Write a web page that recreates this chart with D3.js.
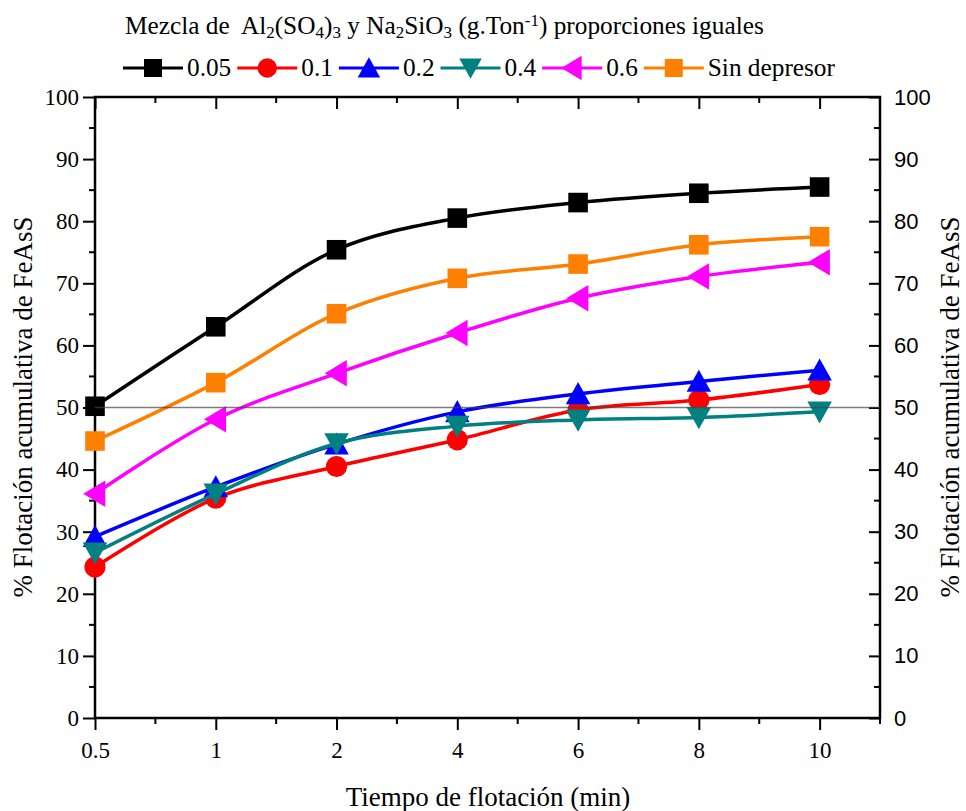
<!DOCTYPE html>
<html lang="en">
	<head>
		<meta charset="utf-8">
		<title>Flotación FeAsS</title>
		<style type="text/css">
			body {
				margin: 0;
				background: white;
			}
		</style>
		<script src="https://d3js.org/d3.v7.min.js"></script>
	</head>
	<body>
		<script type="text/javascript">
			// data
			var times = ["0.5", "1", "2", "4", "6", "8", "10"];
			var seriesNames = ["0.05", "0.1", "0.2", "0.4", "0.6", "Sin depresor"];
			var d005 = [50.2, 63.0, 75.4, 80.5, 83.0, 84.5, 85.5];
			var d01 = [24.3, 35.4, 40.5, 44.8, 49.6, 51.2, 53.7];
			var d02 = [29.2, 37.2, 44.1, 49.3, 52.2, 54.2, 56.0];
			var d04 = [26.6, 36.1, 44.2, 47.0, 48.0, 48.4, 49.3];
			var d06 = [36.1, 48.1, 55.5, 62.0, 67.6, 71.1, 73.4];
			var dSin = [44.6, 54.0, 65.1, 70.8, 73.1, 76.2, 77.5];
			var yTicks = [0, 10, 20, 30, 40, 50, 60, 70, 80, 90, 100];
			var refLine = 50;

			var colors = ["#000000", "#ff0000", "#0000ff", "#008080", "#ff00ff", "#ff8000"];
			var shapes = ["square", "circle", "up", "down", "left", "square"];
			var allData = [d005, d01, d02, d04, d06, dSin];

			var serif = "'Liberation Serif', 'Times New Roman', serif";
			var sans = "'Liberation Sans', Arial, sans-serif";

			var w = 966, h = 811;
			var x0 = 95, x1 = 880, yTop = 97, yBot = 718;

			var svg = d3.select("body")
						.append("svg")
						.attr("width", w)
						.attr("height", h);

			// categorical x, last half step left empty on the right
			var step = (x1 - x0) / (times.length - 0.5);
			var xScale = d3.scalePoint()
							.domain(times)
							.range([x0, x0 + step * (times.length - 1)]);
			var minorX = d3.range(times.length).map(function(i) { return x0 + step * (i + 0.5); });

			var yScale = d3.scaleLinear()
							.domain([0, 100])
							.range([yBot, yTop]);
			var minorY = d3.range(5, 100, 10);

			//Bottom axis (ticks out)
			var bottomAx = svg.append("g")
				.attr("transform", "translate(0," + yBot + ")")
				.call(d3.axisBottom(xScale).tickSize(12).tickPadding(12).tickSizeOuter(0));
			bottomAx.selectAll(".minor")
				.data(minorX)
				.enter()
				.append("line")
				.attr("x1", function(d) { return d; })
				.attr("x2", function(d) { return d; })
				.attr("y2", 6);

			//Top axis (ticks in)
			var topAx = svg.append("g")
				.attr("transform", "translate(0," + yTop + ")")
				.call(d3.axisTop(xScale).tickSize(-12).tickFormat("").tickSizeOuter(0));
			topAx.selectAll(".minor")
				.data(minorX)
				.enter()
				.append("line")
				.attr("x1", function(d) { return d; })
				.attr("x2", function(d) { return d; })
				.attr("y2", 6);

			//Left axis (ticks out)
			var leftAx = svg.append("g")
				.attr("transform", "translate(" + x0 + ",0)")
				.call(d3.axisLeft(yScale).tickValues(yTicks).tickSize(12).tickPadding(4).tickSizeOuter(0));
			leftAx.selectAll(".minor")
				.data(minorY)
				.enter()
				.append("line")
				.attr("y1", function(d) { return yScale(d); })
				.attr("y2", function(d) { return yScale(d); })
				.attr("x2", -6);

			//Right axis (ticks in)
			var rightAx = svg.append("g")
				.attr("transform", "translate(" + x1 + ",0)")
				.call(d3.axisRight(yScale).tickValues(yTicks).tickSize(-11).tickPadding(14).tickSizeOuter(0));
			rightAx.selectAll(".minor")
				.data(minorY)
				.enter()
				.append("line")
				.attr("y1", function(d) { return yScale(d); })
				.attr("y2", function(d) { return yScale(d); })
				.attr("x2", -6);

			svg.selectAll(".domain").remove();
			svg.selectAll("line")
				.attr("stroke", "black")
				.attr("stroke-width", 2);
			svg.selectAll(".tick text")
				.attr("fill", "black")
				.style("font-size", "23px")
				.style("font-family", serif);
			rightAx.selectAll(".tick text")
				.style("font-family", sans)
				.style("font-size", "22px");

			//frame
			svg.append("rect")
				.attr("x", x0)
				.attr("y", yTop)
				.attr("width", x1 - x0)
				.attr("height", yBot - yTop)
				.attr("fill", "none")
				.attr("stroke", "black")
				.attr("stroke-width", 2.5);

			//marker shapes
			function marker(shape, s) {
				if (shape == "square") return "M" + (-s) + "," + (-s) + "h" + (2 * s) + "v" + (2 * s) + "h" + (-2 * s) + "Z";
				if (shape == "up") return "M0," + (-s * 1.2) + "L" + (s * 1.25) + "," + (s * 1.05) + "L" + (-s * 1.25) + "," + (s * 1.05) + "Z";
				if (shape == "down") return "M0," + (s * 1.2) + "L" + (s * 1.25) + "," + (-s * 1.05) + "L" + (-s * 1.25) + "," + (-s * 1.05) + "Z";
				if (shape == "left") return "M" + (-s * 1.2) + ",0L" + (s * 1.05) + "," + (-s * 1.35) + "L" + (s * 1.05) + "," + (s * 1.35) + "Z";
				return d3.arc()({innerRadius: 0, outerRadius: s * 1.08, startAngle: 0, endAngle: 2 * Math.PI});
			}

			var line = d3.line()
				.x(function(d, i) { return xScale(times[i]); })
				.y(function(d) { return yScale(d); })
				.curve(d3.curveCatmullRom.alpha(0.5));

			var plot = svg.append("g");
			allData.forEach(function(vals, k) {
				plot.append("path")
					.attr("d", line(vals))
					.attr("fill", "none")
					.attr("stroke", colors[k])
					.attr("stroke-width", 3.5);
				plot.selectAll(".m" + k)
					.data(vals)
					.enter()
					.append("path")
					.attr("class", "m" + k)
					.attr("transform", function(d, i) {
						return "translate(" + xScale(times[i]) + "," + yScale(d) + ")";
					})
					.attr("d", marker(shapes[k], 9.8))
					.attr("fill", colors[k]);
			});

			//reference line at 50
			svg.append("line")
				.attr("x1", x0)
				.attr("x2", x1)
				.attr("y1", yScale(refLine))
				.attr("y2", yScale(refLine))
				.attr("stroke", "#444")
				.attr("stroke-opacity", 0.7)
				.attr("stroke-width", 1.5);

			//axis titles
			svg.append("text")
				.attr("x", 488)
				.attr("y", 806)
				.attr("text-anchor", "middle")
				.style("font-family", serif)
				.style("font-size", "27px")
				.text("Tiempo de flotación (min)");

			svg.append("text")
				.attr("transform", "translate(32,407) rotate(-90)")
				.attr("text-anchor", "middle")
				.style("font-family", serif)
				.style("font-size", "27px")
				.text("% Flotación acumulativa de FeAsS");

			svg.append("text")
				.attr("transform", "translate(959,407) rotate(-90)")
				.attr("text-anchor", "middle")
				.style("font-family", serif)
				.style("font-size", "27px")
				.text("% Flotación acumulativa de FeAsS");

			//title with sub/superscripts
			var title = svg.append("text")
				.attr("x", 125)
				.attr("y", 34)
				.style("font-family", serif)
				.style("font-size", "25.3px")
				.style("white-space", "pre");
			var parts = [
				["Mezcla de  Al", 0], ["2", -1], ["(SO", 0], ["4", -1], [")", 0], ["3", -1],
				[" y Na", 0], ["2", -1], ["SiO", 0], ["3", -1], [" (g.Ton", 0], ["-1", 1],
				[") proporciones iguales", 0]
			];
			parts.forEach(function(p) {
				var t = title.append("tspan").text(p[0]);
				if (p[1] == -1) t.attr("baseline-shift", "-25%").style("font-size", "17px");
				if (p[1] == 1) t.attr("baseline-shift", "45%").style("font-size", "17px");
			});

			//legend row
			var lx = 123, ly = 68;
			var legend = svg.append("g");
			seriesNames.forEach(function(name, k) {
				legend.append("line")
					.attr("x1", lx)
					.attr("x2", lx + 60)
					.attr("y1", ly)
					.attr("y2", ly)
					.attr("stroke", colors[k])
					.attr("stroke-width", 3);
				legend.append("path")
					.attr("transform", "translate(" + (lx + 30) + "," + ly + ")")
					.attr("d", marker(shapes[k], 9))
					.attr("fill", colors[k]);
				var t = legend.append("text")
					.attr("x", lx + 64)
					.attr("y", ly + 8)
					.style("font-family", serif)
					.style("font-size", "25.3px")
					.text(name);
				lx = lx + 64 + t.node().getComputedTextLength() + 6;
			});
		</script>
	</body>
</html>
